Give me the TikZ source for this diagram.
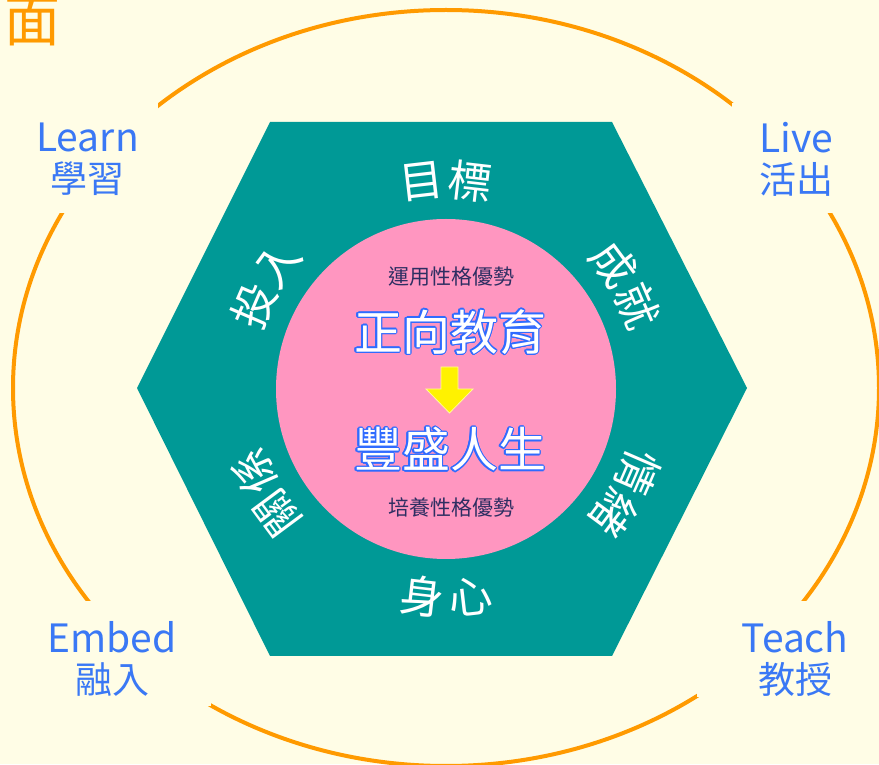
\documentclass[tikz,border=0pt]{standalone}
\usepackage{fontspec}
\setmainfont{Noto Sans CJK TC}
\usepackage{xcolor}
\usepackage{contour}
\usetikzlibrary{calc}

\definecolor{paper}{HTML}{FFFDE6}
\definecolor{ringorange}{HTML}{FF9A00}
\definecolor{hexteal}{HTML}{009996}
\definecolor{hubpink}{HTML}{FF96C0}
\definecolor{wordblue}{HTML}{3A78F5}
\definecolor{glowblue}{HTML}{2F6BFF}
\definecolor{inkdark}{HTML}{2E2E62}
\contourlength{1.3pt}

\begin{document}
\begin{tikzpicture}[x=1pt, y=1pt,
	wordlabel/.style={anchor=north, inner sep=0pt, align=center, text=wordblue, font=\fontsize{39}{41}\selectfont},
	sidechar/.style={text=white, inner sep=0pt, font=\fontsize{44}{44}\selectfont},
	bigword/.style={text=white, inner sep=0pt, font=\fontsize{48}{48}\selectfont},
	smallword/.style={text=inkdark, inner sep=0pt, font=\fontsize{21}{21}\selectfont}]
	\useasboundingbox (0,0) rectangle (879,764);
	\fill[paper] (0,0) rectangle (879,764); %background
	%
	% outer ring, cut open where the four words sit
	\draw[line width=4pt, color=ringorange] (446,376) ellipse [x radius=433, y radius=378];
	\fill[paper] (0,551) rectangle (158,661);
	\fill[paper] (732,551) rectangle (879,661);
	\fill[paper] (0,58) rectangle (211,163);
	\fill[paper] (697,67) rectangle (879,163);
	%
	% hexagon and circle
	\fill[hexteal] (270,642) -- (612,642) -- (747,376) -- (612,108) -- (270,108) -- (137,376) -- cycle;
	\coordinate (hub) at (446,375);
	\fill[hubpink] (hub) circle (170);
	%
	% corner words
	\node[wordlabel] (learn) at (87.5,641) {Learn\\{\fontsize{37}{41}\selectfont 學習}};
	\node[wordlabel] (live) at (796,642) {Live\\{\fontsize{37}{41}\selectfont 活出}};
	\node[wordlabel] (embed) at (112,143) {Embed\\{\fontsize{37}{41}\selectfont 融入}};
	\node[wordlabel] (teach) at (795,143) {Teach\\{\fontsize{37}{41}\selectfont 教授}};
	%
	% words round the circle, read clockwise
	\foreach \ang/\first/\second [count=\i] in {90/目/標, 30/成/就, -30/情/緒, 210/關/係, 150/投/入} {
		\node[sidechar, rotate=\ang-83.4] (side\i a) at ($(hub)+(\ang+6.6:209)$) {\first};
		\node[sidechar, rotate=\ang-96.6] (side\i b) at ($(hub)+(\ang-6.6:209)$) {\second};
	}
	\node[sidechar, rotate=-6.6] (body) at ($(hub)+(263.4:209)$) {身};
	\node[sidechar, rotate=6.6] (mind) at ($(hub)+(276.6:209)$) {心};
	%
	% texts in the circle
	\node[smallword] (use) at (451.5,487) {運用性格優勢};
	\node[bigword] (posedu) at (450,431.5) {\contour{glowblue}{正向教育}};
	\fill[yellow, draw=yellow!40!white, line width=0.8pt] (441,397) -- (458,397) -- (458,375) -- (473,375) -- (449.5,351) -- (426,375) -- (441,375) -- cycle; %arrow
	\node[bigword] (rich) at (450,314) {\contour{glowblue}{豐盛人生}};
	\node[smallword] (grow) at (451,256) {培養性格優勢};
	%
	% title, cut by the page edge
	\node[anchor=base east, inner sep=0pt, text=ringorange, font=\fontsize{56}{56}\selectfont] (title) at (61,722) {層面};
\end{tikzpicture}
\end{document}
